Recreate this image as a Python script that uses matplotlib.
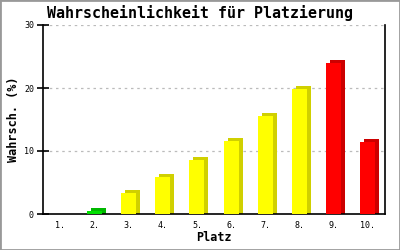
import matplotlib
matplotlib.use("Agg")
import matplotlib.pyplot as plt
from matplotlib.patches import Rectangle

# Data
places = ["1.", "2.", "3.", "4.", "5.", "6.", "7.", "8.", "9.", "10."]
probs = [0.0, 0.4, 3.3, 5.9, 8.5, 11.6, 15.5, 19.8, 24.0, 11.5]
front_colors = ["#FFFF00", "#00E000", "#FFFF00", "#FFFF00", "#FFFF00",
                "#FFFF00", "#FFFF00", "#FFFF00", "#FF0000", "#FF0000"]
side_colors = ["#D0D000", "#00B800", "#D0D000", "#D0D000", "#D0D000",
               "#D0D000", "#D0D000", "#D0D000", "#CC0000", "#CC0000"]
y_ticks = [0, 10, 20, 30]

mono = "DejaVu Sans Mono"

fig = plt.figure(figsize=(4, 2.5), dpi=100)
fig.patches.append(Rectangle((0, 0), 1, 1, transform=fig.transFigure,
                             fill=False, edgecolor="#999999", linewidth=2))
ax = fig.add_axes([0.1075, 0.144, 0.855, 0.756])

x = list(range(1, len(places) + 1))
width = 0.44
dx = 0.117   # pseudo 3D depth
dy = 0.48

# darker side/top face first, then the front face
for xi, h, sc in zip(x, probs, side_colors):
    if h > 0:
        ax.bar(xi + dx, h + dy, width=width, bottom=0, color=sc,
               linewidth=0, zorder=2)
ax.bar(x, probs, width=width, color=front_colors, linewidth=0, zorder=3)

ax.set_xlim(0.5, 10.5)
ax.set_ylim(0, 30)
ax.set_xticks(x)
ax.set_xticklabels(places, fontfamily=mono, fontsize=6)
ax.set_yticks(y_ticks)
ax.set_yticklabels([str(t) for t in y_ticks], fontfamily=mono, fontsize=6)
ax.tick_params(axis="x", length=0, pad=5)
ax.tick_params(axis="y", direction="inout", length=9, width=1.2, pad=2)

for yt in y_ticks[1:]:
    ax.axhline(yt, color="#BBBBBB", linestyle=(0, (2, 3)), linewidth=0.9, zorder=1)

ax.spines["top"].set_visible(False)
for s in ["left", "right", "bottom"]:
    ax.spines[s].set_linewidth(1.2)

# title is centred on the whole picture, not on the axes
fig.text(0.5, 0.948, "Wahrscheinlichkeit für Platzierung", fontfamily=mono,
         fontweight="bold", fontsize=10.8, ha="center", va="center")
ax.set_xlabel("Platz", fontfamily=mono, fontweight="bold", fontsize=8.5, labelpad=1)
ax.set_ylabel("Wahrsch. (%)", fontfamily=mono, fontweight="bold", fontsize=8.5, labelpad=3)

fig.savefig("out.png", dpi=100)
